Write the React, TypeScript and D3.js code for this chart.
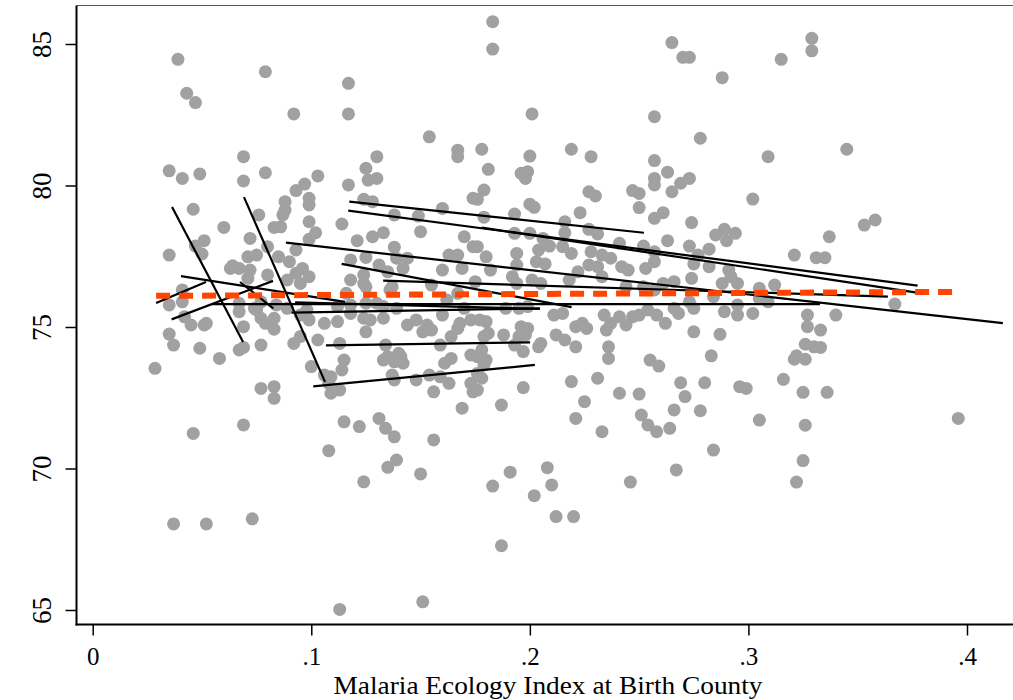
import React, { useEffect, useRef } from 'react';
import * as d3 from 'd3';

type Pt = [number, number];
type Seg = [number, number, number, number];

// malaria ecology index (x) vs outcome (y)
const topPoints: Pt[] = [
  [0.039, 84.46], [0.079, 84.02], [0.117, 83.61], [0.043, 83.26], [0.047, 82.93], [0.092, 82.53],
  [0.117, 82.53], [0.154, 81.72], [0.183, 85.79], [0.183, 84.82], [0.265, 85.05], [0.270, 84.53],
  [0.273, 84.53], [0.201, 82.53], [0.257, 82.43], [0.278, 81.67], [0.315, 84.46], [0.288, 83.81],
];

const westUpper: Pt[] = [
  [0.069, 81.02], [0.035, 80.52], [0.041, 80.25], [0.049, 80.41], [0.069, 80.16], [0.079, 80.45],
  [0.103, 80.34], [0.097, 80.05], [0.093, 79.82], [0.088, 79.43], [0.099, 79.55], [0.099, 79.31],
  [0.088, 79.13], [0.087, 78.96], [0.076, 78.96], [0.046, 79.16], [0.060, 78.52], [0.083, 78.52],
  [0.086, 78.54], [0.099, 78.72], [0.102, 78.33], [0.099, 78.10], [0.072, 78.13], [0.051, 78.05],
  [0.047, 77.86], [0.050, 77.58], [0.035, 77.54], [0.080, 77.84], [0.075, 77.54], [0.071, 77.48],
  [0.064, 77.16], [0.063, 77.07], [0.067, 77.07], [0.072, 77.01], [0.080, 76.84], [0.071, 76.72],
  [0.085, 77.48], [0.090, 77.31], [0.096, 77.07], [0.093, 76.90], [0.099, 76.78], [0.089, 76.66],
  [0.095, 76.54], [0.093, 77.72], [0.117, 80.02], [0.125, 80.61], [0.126, 80.19], [0.130, 80.25],
  [0.130, 81.02], [0.124, 79.51], [0.128, 79.43], [0.138, 78.96], [0.149, 78.92], [0.160, 79.19],
  [0.167, 81.25], [0.167, 81.02], [0.174, 79.55], [0.114, 78.64], [0.121, 78.05], [0.128, 78.19],
  [0.133, 78.33], [0.125, 77.46], [0.138, 77.82], [0.150, 78.37], [0.170, 78.19], [0.174, 77.84],
  [0.118, 77.37], [0.124, 76.84], [0.131, 77.19], [0.135, 76.95], [0.139, 77.43], [0.144, 77.43],
  [0.142, 77.07], [0.160, 77.01], [0.163, 77.54], [0.167, 77.54], [0.169, 77.07], [0.155, 76.48],
  [0.137, 76.42], [0.125, 76.42], [0.118, 76.66],
];

const westLower: Pt[] = [
  [0.0285, 73.54], [0.035, 75.78], [0.041, 75.89], [0.042, 75.36], [0.045, 75.07], [0.051, 75.07],
  [0.052, 75.13], [0.035, 74.75], [0.037, 74.36], [0.049, 74.25], [0.058, 73.89], [0.067, 75.54],
  [0.069, 75.01], [0.075, 75.60], [0.077, 75.31], [0.079, 75.13], [0.083, 75.31], [0.083, 74.92],
  [0.069, 74.28], [0.067, 74.19], [0.077, 74.36], [0.092, 74.42], [0.103, 74.54], [0.095, 74.66],
  [0.100, 73.60], [0.089, 75.66], [0.095, 75.42], [0.099, 75.25], [0.098, 75.60], [0.106, 75.13],
  [0.112, 75.19], [0.118, 75.48], [0.124, 75.31], [0.127, 75.25], [0.133, 75.31], [0.125, 74.83],
  [0.106, 73.30], [0.109, 73.24], [0.114, 73.48], [0.115, 73.83], [0.109, 72.66], [0.113, 72.77],
  [0.113, 74.42], [0.134, 74.36], [0.135, 73.95], [0.140, 74.07], [0.133, 73.83], [0.138, 73.77],
  [0.142, 73.72], [0.141, 73.95], [0.077, 72.83], [0.083, 72.89], [0.083, 72.48], [0.137, 73.30],
  [0.138, 73.13], [0.148, 73.13], [0.154, 73.30], [0.156, 72.71], [0.159, 73.24], [0.163, 73.01],
  [0.161, 73.72], [0.164, 73.89], [0.159, 74.36], [0.169, 72.13], [0.173, 73.01], [0.173, 74.01],
  [0.144, 75.07], [0.148, 75.25], [0.153, 75.07], [0.151, 74.83], [0.155, 74.89], [0.160, 75.42],
  [0.167, 74.95], [0.168, 75.13], [0.170, 75.66], [0.173, 75.25], [0.133, 75.72], [0.139, 75.66],
  [0.112, 75.72], [0.118, 75.78], [0.067, 75.84], [0.074, 75.66], [0.077, 75.89], [0.115, 71.65],
  [0.122, 71.48], [0.131, 71.77], [0.134, 71.42], [0.138, 71.12], [0.156, 71.01], [0.069, 71.54],
  [0.046, 71.24], [0.164, 74.66], [0.174, 72.71], [0.108, 73.01], [0.041, 76.31], [0.084, 75.78],
  [0.116, 76.19], [0.125, 75.84], [0.130, 75.84], [0.124, 76.54], [0.136, 76.31], [0.167, 76.19],
  [0.162, 75.95],
];

const southPoints: Pt[] = [
  [0.108, 70.63], [0.135, 70.04], [0.124, 69.53], [0.037, 68.04], [0.052, 68.04], [0.073, 68.22],
  [0.113, 65.02], [0.139, 70.30], [0.150, 69.81], [0.151, 65.29], [0.183, 69.38], [0.191, 69.87],
  [0.208, 70.03], [0.210, 69.42], [0.202, 69.04], [0.212, 68.30], [0.220, 68.30], [0.246, 69.52],
  [0.267, 69.95], [0.187, 67.27], [0.284, 70.65],
];

const eastUpper: Pt[] = [
  [0.178, 81.28], [0.200, 81.04], [0.219, 81.28], [0.228, 81.02], [0.309, 81.02], [0.181, 80.57],
  [0.196, 80.43], [0.199, 80.49], [0.198, 80.25], [0.257, 80.88], [0.263, 80.47], [0.257, 80.25],
  [0.257, 80.02], [0.269, 80.08], [0.273, 80.25], [0.265, 79.78], [0.179, 79.84], [0.176, 79.51],
  [0.227, 79.78], [0.230, 79.63], [0.247, 79.82], [0.250, 79.72], [0.302, 79.52], [0.200, 79.34],
  [0.202, 79.23], [0.250, 79.22], [0.193, 78.99], [0.223, 79.04], [0.257, 78.84], [0.261, 79.04],
  [0.179, 78.88], [0.274, 78.69], [0.216, 78.72], [0.227, 78.45], [0.231, 78.29], [0.193, 78.31],
  [0.200, 78.31], [0.285, 78.25], [0.289, 78.45], [0.294, 78.31], [0.290, 78.05], [0.206, 78.13],
  [0.209, 77.86], [0.216, 78.33], [0.263, 78.05], [0.241, 77.96], [0.176, 77.84], [0.180, 77.48],
  [0.194, 77.60], [0.204, 77.72], [0.215, 77.84], [0.219, 77.60], [0.228, 77.66], [0.233, 77.54],
  [0.252, 77.86], [0.257, 77.66], [0.273, 77.86], [0.282, 77.75], [0.321, 77.54], [0.182, 77.01],
  [0.194, 77.19], [0.192, 76.78], [0.203, 77.31], [0.207, 77.23], [0.222, 76.95], [0.227, 77.19],
  [0.231, 77.13], [0.233, 76.78], [0.237, 77.43], [0.242, 77.13], [0.245, 77.01], [0.253, 77.07],
  [0.257, 77.31], [0.266, 76.60], [0.274, 76.72], [0.282, 77.13], [0.291, 77.01], [0.295, 76.54],
  [0.288, 76.54], [0.305, 76.37], [0.312, 76.48], [0.194, 76.54], [0.201, 76.66], [0.205, 76.54],
  [0.218, 76.66], [0.252, 76.42], [0.175, 76.60], [0.277, 77.54], [0.275, 77.23], [0.292, 76.78],
  [0.244, 76.42], [0.257, 76.31], [0.261, 76.54],
];

const eastLower: Pt[] = [
  [0.180, 75.19], [0.177, 75.25], [0.181, 74.78], [0.179, 74.66], [0.178, 74.19], [0.180, 73.83],
  [0.179, 73.66], [0.176, 73.36], [0.178, 73.19], [0.176, 72.77], [0.188, 74.72], [0.189, 75.66],
  [0.195, 75.66], [0.199, 75.72], [0.196, 75.01], [0.199, 74.95], [0.195, 74.66], [0.198, 74.72],
  [0.193, 74.36], [0.197, 74.13], [0.204, 74.30], [0.205, 74.42], [0.197, 72.86], [0.187, 72.24],
  [0.211, 75.42], [0.215, 75.48], [0.212, 74.72], [0.216, 74.54], [0.221, 74.30], [0.221, 75.01],
  [0.224, 75.13], [0.226, 74.95], [0.219, 73.07], [0.225, 72.36], [0.221, 71.77], [0.231, 73.19],
  [0.234, 75.42], [0.235, 74.89], [0.237, 75.13], [0.241, 75.36], [0.244, 75.07], [0.247, 75.36],
  [0.236, 74.30], [0.236, 73.89], [0.241, 72.66], [0.250, 72.63], [0.251, 71.89], [0.254, 71.54],
  [0.258, 71.30], [0.264, 71.42], [0.255, 73.83], [0.259, 73.62], [0.250, 75.42], [0.254, 75.60],
  [0.258, 75.42], [0.262, 75.13], [0.266, 75.66], [0.268, 75.48], [0.275, 75.66], [0.269, 73.03],
  [0.271, 72.54], [0.266, 72.07], [0.278, 72.04], [0.275, 74.83], [0.280, 73.03], [0.283, 73.98],
  [0.287, 74.74], [0.289, 75.54], [0.295, 75.42], [0.295, 75.78], [0.302, 75.48], [0.305, 71.71],
  [0.296, 72.89], [0.299, 72.83], [0.316, 73.15], [0.309, 75.89], [0.273, 75.89], [0.284, 76.07],
  [0.305, 76.01], [0.176, 73.95], [0.233, 71.30],
];

const farEast: Pt[] = [
  [0.329, 85.20], [0.329, 84.76], [0.345, 81.28], [0.353, 78.60], [0.358, 78.78], [0.337, 78.19],
  [0.331, 77.45], [0.335, 77.45], [0.367, 75.81], [0.327, 75.42], [0.340, 75.42], [0.327, 75.01],
  [0.333, 74.89], [0.326, 74.39], [0.330, 74.30], [0.333, 74.28], [0.326, 73.86], [0.325, 72.69],
  [0.336, 72.69], [0.326, 71.53], [0.396, 71.77], [0.325, 70.28], [0.322, 73.98], [0.321, 73.86],
  [0.322, 69.52],
];

// group-level fitted lines: x0, y0, x1, y1
const groupFits: Seg[] = [
  [0.0363, 79.24, 0.0688, 74.47],
  [0.0692, 79.59, 0.1063, 73.06],
  [0.0290, 75.85, 0.0518, 76.59],
  [0.0361, 75.27, 0.0825, 76.63],
  [0.0404, 76.80, 0.1154, 75.89],
  [0.0674, 76.59, 0.0826, 75.66],
  [0.0544, 75.81, 0.3327, 75.81],
  [0.0926, 75.87, 0.2046, 75.64],
  [0.0910, 75.51, 0.2046, 75.66],
  [0.1067, 74.35, 0.2001, 74.46],
  [0.1009, 72.90, 0.2023, 73.66],
  [0.1174, 79.43, 0.2522, 78.33],
  [0.1169, 79.11, 0.3774, 76.46],
  [0.1780, 78.51, 0.3794, 76.19],
  [0.0884, 77.98, 0.4164, 75.14],
  [0.1139, 77.23, 0.2191, 75.70],
  [0.1329, 76.64, 0.3638, 76.07],
];

const overallFit: Pt[] = [[0.029, 76.10], [0.3955, 76.24]];

const xTicks = [0, 0.1, 0.2, 0.3, 0.4];
const xTickLabels = ['0', '.1', '.2', '.3', '.4'];
const yTicks = [65, 70, 75, 80, 85];
const xTitle = 'Malaria Ecology Index at Birth County';

const FONT = 'Liberation Serif, Times New Roman, serif';

const App = () => {
  const ref = useRef<SVGSVGElement>(null);

  useEffect(() => {
    if (!ref.current) return;
    const svg = d3.select(ref.current);
    svg.selectAll('*').remove();

    const width = 1013;
    const left = 76.5, bottom = 624.5, top = 5.5;

    const x = d3.scaleLinear().domain([0, 0.4]).range([92.7, 967]);
    const y = d3.scaleLinear().domain([65, 85]).range([610, 44]);

    svg.append('rect').attr('width', width).attr('height', 700).attr('fill', '#fff');

    // points
    const points = [...topPoints, ...westUpper, ...westLower, ...southPoints, ...eastUpper, ...eastLower, ...farEast];
    svg.append('g')
      .selectAll('circle')
      .data(points)
      .join('circle')
      .attr('cx', d => x(d[0]))
      .attr('cy', d => y(d[1]))
      .attr('r', 6.5)
      .attr('fill', '#a1a1a1');

    // per-group fit lines
    svg.append('g')
      .selectAll('line')
      .data(groupFits)
      .join('line')
      .attr('x1', d => x(d[0]))
      .attr('y1', d => y(d[1]))
      .attr('x2', d => x(d[2]))
      .attr('y2', d => y(d[3]))
      .attr('stroke', '#000')
      .attr('stroke-width', 2.2);

    // overall fit
    const line = d3.line<Pt>().x(d => x(d[0])).y(d => y(d[1]));
    svg.append('path')
      .datum(overallFit)
      .attr('d', line)
      .attr('fill', 'none')
      .attr('stroke', '#ff4500')
      .attr('stroke-width', 6)
      .attr('stroke-dasharray', '14,9');

    // frame
    svg.append('line')
      .attr('x1', left).attr('x2', width).attr('y1', top).attr('y2', top)
      .attr('stroke', '#555').attr('stroke-width', 1.2);
    svg.append('line')
      .attr('x1', left).attr('x2', left).attr('y1', top).attr('y2', bottom + 1)
      .attr('stroke', '#000').attr('stroke-width', 2);
    svg.append('line')
      .attr('x1', left - 1).attr('x2', width).attr('y1', bottom).attr('y2', bottom)
      .attr('stroke', '#000').attr('stroke-width', 2);

    // x axis
    const xAxis = svg.append('g')
      .attr('transform', `translate(0,${bottom})`)
      .call(d3.axisBottom(x).tickValues(xTicks).tickSize(11).tickFormat((_, i) => xTickLabels[i]));
    xAxis.attr('font-family', FONT).attr('font-size', 25);
    xAxis.select('.domain').remove();
    xAxis.selectAll('line').attr('stroke', '#000').attr('stroke-width', 1.5);
    xAxis.selectAll('text')
      .attr('y', 40.5)
      .attr('dy', null)
      .attr('fill', '#000')
      .attr('font-family', FONT)
      .attr('font-size', 25);

    // y axis
    const yAxis = svg.append('g')
      .attr('transform', `translate(${left},0)`)
      .call(d3.axisLeft(y).tickValues(yTicks).tickSize(11).tickFormat(d => String(d)));
    yAxis.attr('font-family', FONT).attr('font-size', 27);
    yAxis.select('.domain').remove();
    yAxis.selectAll('line').attr('stroke', '#000').attr('stroke-width', 1.5);
    yAxis.selectAll('text')
      .attr('x', 0)
      .attr('y', -26)
      .attr('dy', null)
      .attr('transform', 'rotate(-90)')
      .attr('text-anchor', 'middle')
      .attr('fill', '#000')
      .attr('font-family', FONT)
      .attr('font-size', 27);

    svg.append('text')
      .attr('x', 548)
      .attr('y', 693.5)
      .attr('text-anchor', 'middle')
      .attr('textLength', 429)
      .attr('lengthAdjust', 'spacingAndGlyphs')
      .attr('font-family', FONT)
      .attr('font-size', 26)
      .text(xTitle);
  }, []);

  return (
    <div style={{ position: 'absolute', left: 0, top: 0 }}>
      <svg ref={ref} width={1013} height={700} />
    </div>
  );
};

export default App;
